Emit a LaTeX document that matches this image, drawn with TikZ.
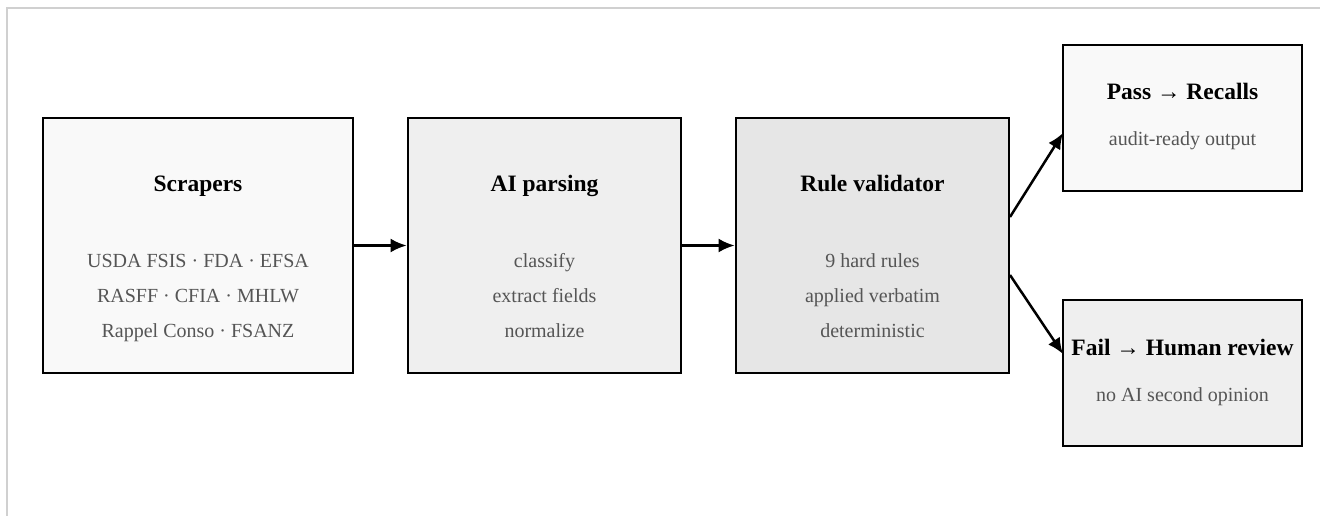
\documentclass[tikz,border=0pt]{standalone}
\usepackage{fontspec}
\setmainfont{Liberation Serif}
\usetikzlibrary{arrows.meta}
\definecolor{frame}{HTML}{D0D0D0}
\definecolor{fillA}{HTML}{F9F9F9}
\definecolor{fillB}{HTML}{EFEFEF}
\definecolor{fillC}{HTML}{E6E6E6}
\definecolor{subgray}{HTML}{555555}
\tikzset{
  box/.style={draw=black, line width=2.8pt, inner sep=0pt},
  ttl/.style={font=\bfseries\fontsize{23.5}{26}\selectfont, text=black, anchor=base},
  sub/.style={font=\fontsize{20}{22}\selectfont, text=subgray, anchor=base},
  conn/.style={line width=2.5pt, -{Latex[length=16pt,width=14pt]}},
}
\begin{document}
\begin{tikzpicture}[x=1pt,y=-1pt]
\useasboundingbox (0,0) rectangle (1320,516);
\draw[frame, line width=2pt] (7,530) -- (7,8) -- (1330,8);
% boxes
\node[box, fill=fillA, minimum width=310pt, minimum height=255pt] (scr) at (198,245.5) {};
\node[box, fill=fillB, minimum width=273pt, minimum height=255pt] (ai) at (544.5,245.5) {};
\node[box, fill=fillC, minimum width=273pt, minimum height=255pt] (rule) at (872.5,245.5) {};
\node[box, fill=fillA, minimum width=239pt, minimum height=146pt] (pass) at (1182.5,118) {};
\node[box, fill=fillB, minimum width=239pt, minimum height=146pt] (fail) at (1182.5,373) {};
% texts
\node[ttl] (t1) at (198,191) {Scrapers};
\node[sub] (s1a) at (198,267) {USDA FSIS · FDA · EFSA};
\node[sub] (s1b) at (198,302) {RASFF · CFIA · MHLW};
\node[sub] (s1c) at (198,337) {Rappel Conso · FSANZ};
\node[ttl] (t2) at (544.5,191) {AI parsing};
\node[sub] (s2a) at (544.5,267) {classify};
\node[sub] (s2b) at (544.5,302) {extract fields};
\node[sub] (s2c) at (544.5,337) {normalize};
\node[ttl] (t3) at (872.5,191) {Rule validator};
\node[sub] (s3a) at (872.5,267) {9 hard rules};
\node[sub] (s3b) at (872.5,302) {applied verbatim};
\node[sub] (s3c) at (872.5,337) {deterministic};
\node[ttl] (t4) at (1182.5,100) {Pass → Recalls};
\node[sub] (s4) at (1182.5,146) {audit-ready output};
\node[ttl] (t5) at (1182.5,355) {Fail → Human review};
\node[sub] (s5) at (1182.5,401) {no AI second opinion};
% connectors
\draw[conn] (scr.east) -- (ai.west);
\draw[conn] (ai.east) -- (rule.west);
\coordinate (rp) at (1010,217);
\coordinate (rf) at (1010,275);
\coordinate (pin) at (1063,133);
\coordinate (fin) at (1063,354);
\draw[conn] (rp) -- (pin);
\draw[conn] (rf) -- (fin);
\end{tikzpicture}
\end{document}
